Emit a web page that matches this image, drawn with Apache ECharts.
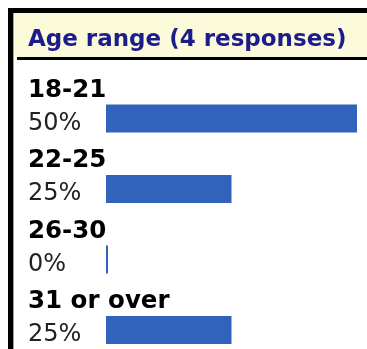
<!DOCTYPE html>
<html>
<head>
<meta charset="utf-8">
<script src="https://cdn.jsdelivr.net/npm/echarts@6/dist/echarts.min.js"></script>
<style>
  html, body { margin: 0; padding: 0; background: #ffffff; }
  #chart { width: 367px; height: 349px; }
</style>
</head>
<body>
<div id="chart"></div>
<script>
// Survey question and answer options
const questionTitle = 'Age range (4 responses)';
const categories = ['18-21', '22-25', '26-30', '31 or over'];
// Share of responses per option, in percent
const percents = [50, 25, 0, 25];

const FONT = '"DejaVu Sans", Verdana, sans-serif';
const BAR_BLUE = '#3263bc';

const chart = echarts.init(document.getElementById('chart'), null, { renderer: 'canvas' });

chart.setOption({
  animation: false,
  backgroundColor: '#ffffff',
  title: {
    text: questionTitle,
    left: 28,
    top: 29,
    padding: 0,
    textStyle: {
      fontFamily: FONT,
      fontWeight: 'bold',
      fontSize: 23,
      color: '#1c1c8c'
    }
  },
  graphic: [
    // header band
    { type: 'rect', z: -10, shape: { x: 14, y: 13, width: 353, height: 44 }, style: { fill: '#fbfbdc' } },
    // frame: left and top edges
    { type: 'rect', z: -9, shape: { x: 8, y: 8, width: 5, height: 341 }, style: { fill: '#000000' } },
    { type: 'rect', z: -9, shape: { x: 8, y: 8, width: 359, height: 5 }, style: { fill: '#000000' } },
    { type: 'rect', z: -9, shape: { x: 13, y: 13, width: 1, height: 336 }, style: { fill: '#a0a0a0' } },
    // rule under the header
    { type: 'rect', z: -9, shape: { x: 17, y: 57, width: 350, height: 3 }, style: { fill: '#000000' } }
  ],
  grid: {
    left: 106,
    width: 251,
    top: 83.25,
    height: 282,
    outerBoundsMode: 'none',
    containLabel: false
  },
  xAxis: {
    type: 'value',
    min: 0,
    max: 50,
    show: false
  },
  yAxis: {
    type: 'category',
    inverse: true,
    data: categories,
    axisLine: { show: false },
    axisTick: { show: false },
    splitLine: { show: false },
    axisLabel: {
      align: 'left',
      margin: 78,
      verticalAlign: 'bottom',
      lineHeight: 56,
      overflow: 'none',
      hideOverlap: false,
      fontFamily: FONT,
      fontWeight: 'bold',
      fontSize: 24.5,
      color: '#000000'
    }
  },
  series: [{
    type: 'bar',
    data: percents,
    barWidth: 28,
    barMinHeight: 2,
    itemStyle: { color: BAR_BLUE },
    label: {
      show: true,
      position: [-78, '50%'],
      offset: [0, 5],
      align: 'left',
      verticalAlign: 'middle',
      formatter: (p) => p.value + '%',
      fontFamily: FONT,
      fontSize: 24,
      color: '#222222'
    }
  }]
});
</script>
</body>
</html>
